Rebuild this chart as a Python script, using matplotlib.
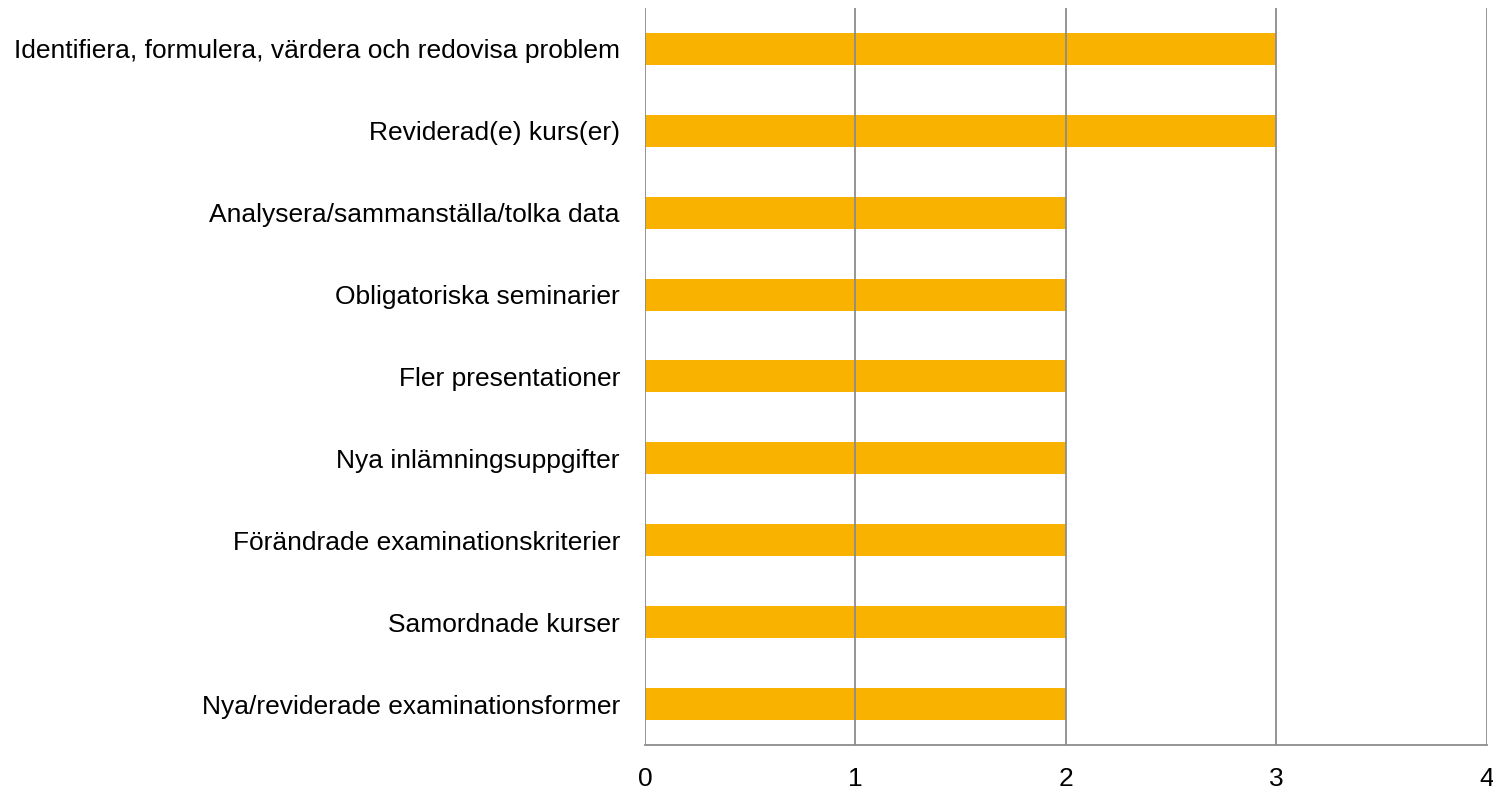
import matplotlib.pyplot as plt

plt.rcParams['font.family'] = ['Liberation Sans', 'DejaVu Sans']

# categories top to bottom
categories = [
    "Identifiera, formulera, värdera och redovisa problem",
    "Reviderad(e) kurs(er)",
    "Analysera/sammanställa/tolka data",
    "Obligatoriska seminarier",
    "Fler presentationer",
    "Nya inlämningsuppgifter",
    "Förändrade examinationskriterier",
    "Samordnade kurser",
    "Nya/reviderade examinationsformer",
]
values = [3, 3, 2, 2, 2, 2, 2, 2, 2]
x_ticks = [0, 1, 2, 3, 4]

fig = plt.figure(figsize=(14.93, 7.89), dpi=100)
ax = fig.add_axes([0.432, 0.0558, 0.5639, 0.9342])

ypos = list(range(len(categories)))[::-1]
ax.barh(ypos, values, height=0.39, color="#F9B200", zorder=1)

ax.set_xlim(0, 4)
ax.set_ylim(-0.5, len(categories) - 0.5)
ax.set_xticks(x_ticks)
ax.set_yticks(ypos)
ax.set_yticklabels(categories)
ax.tick_params(axis="both", length=0, labelsize=19, colors="black")
ax.tick_params(axis="x", pad=16)
ax.tick_params(axis="y", pad=18)

for t in x_ticks:
    ax.axvline(t, color="#8c8c8c", linewidth=1.3, zorder=2)

for s in ["top", "right", "left"]:
    ax.spines[s].set_visible(False)
ax.spines["bottom"].set_color("#8c8c8c")
ax.spines["bottom"].set_linewidth(1.3)

fig.savefig("out.png", dpi=100)
